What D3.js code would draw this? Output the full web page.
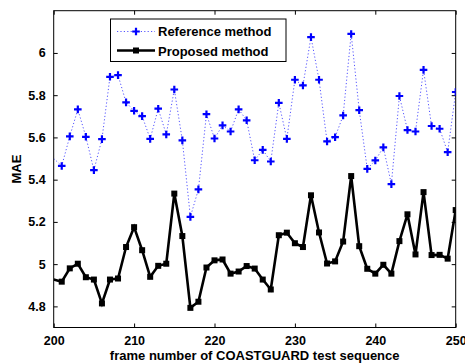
<!DOCTYPE html>
<html><head><meta charset="utf-8">
<script src="https://cdn.jsdelivr.net/npm/d3@7"></script>
<style>
html,body{margin:0;padding:0;background:#fff;}
text{font-family:"Liberation Sans",Arial,Helvetica,sans-serif;font-weight:bold;}
</style></head>
<body><svg id="c" width="465" height="363"></svg>
<script>
const frames = d3.range(200, 251);
const referenceMAE = [5.50,5.465,5.605,5.733,5.603,5.445,5.592,5.887,5.895,5.766,5.726,
  5.701,5.593,5.736,5.614,5.827,5.586,5.224,5.354,5.710,5.595,
  5.657,5.628,5.733,5.681,5.492,5.541,5.486,5.764,5.593,5.873,
  5.846,6.075,5.873,5.581,5.601,5.704,6.090,5.729,5.451,5.491,
  5.553,5.379,5.796,5.635,5.628,5.920,5.654,5.641,5.530,5.815];
const proposedMAE = [4.927,4.917,4.980,5.002,4.938,4.927,4.814,4.927,4.932,5.081,5.175,
  5.066,4.940,4.992,5.002,5.334,5.133,4.793,4.822,4.984,5.018,
  5.022,4.955,4.965,4.991,4.979,4.927,4.880,5.137,5.149,5.099,
  5.081,5.326,5.150,5.003,5.013,5.107,5.417,5.085,4.978,4.955,
  4.997,4.955,5.109,5.236,5.046,5.341,5.043,5.044,5.026,5.256];
const xTicks = [200,210,220,230,240,250];
const yTicks = [4.8,5,5.2,5.4,5.6,5.8,6];
const seriesNames = ["Reference method","Proposed method"];
const xTitle = "frame number of COASTGUARD test sequence";
const yTitle = "MAE";

const L=53.7, R=455.7, T=10.7, B=327.5;
const svg = d3.select("#c");
const x = d3.scaleLinear().domain([200,250]).range([L,R]);
const y = d3.scaleLinear().domain([4.7,6.2]).range([B,T]);

svg.append("defs").append("clipPath").attr("id","clip")
  .append("rect").attr("x",L).attr("y",T).attr("width",R-L).attr("height",B-T);

// axes with inward ticks
const fmtY = d => d===5||d===6 ? String(d) : d3.format(".1f")(d);
const gB = svg.append("g").attr("transform",`translate(0,${B})`)
  .call(d3.axisBottom(x).tickValues(xTicks).tickSize(-4).tickPadding(9).tickFormat(d3.format("d")));
const gT = svg.append("g").attr("transform",`translate(0,${T})`)
  .call(d3.axisTop(x).tickValues(xTicks).tickSize(-4).tickFormat(""));
const gL = svg.append("g").attr("transform",`translate(${L},0)`)
  .call(d3.axisLeft(y).tickValues(yTicks).tickSize(-4).tickPadding(8).tickFormat(fmtY));
const gR = svg.append("g").attr("transform",`translate(${R},0)`)
  .call(d3.axisRight(y).tickValues(yTicks).tickSize(-4).tickFormat(""));
[gB,gT,gL,gR].forEach(g=>{
  g.select(".domain").remove();
  g.selectAll(".tick line").attr("stroke","#000").attr("stroke-width",1);
  g.selectAll("text").attr("font-size",12.5).attr("fill","#000")
   .attr("font-family","'Liberation Sans',Arial,sans-serif").attr("font-weight","bold");
});
svg.append("rect").attr("x",L).attr("y",T).attr("width",R-L).attr("height",B-T)
  .attr("fill","none").attr("stroke","#000").attr("stroke-width",1);

const plot = svg.append("g").attr("clip-path","url(#clip)");
const refData = frames.map((f,i)=>({f,v:referenceMAE[i]}));
const propData = frames.map((f,i)=>({f,v:proposedMAE[i]}));
const line = d3.line().x(d=>x(d.f)).y(d=>y(d.v));

plot.append("path").datum(refData).attr("d",line).attr("fill","none")
  .attr("stroke","#0000ff").attr("stroke-width",0.9).attr("stroke-dasharray","1.2,2.2")
  .attr("stroke-opacity",0.75);
plot.append("path").datum(propData).attr("d",line).attr("fill","none")
  .attr("stroke","#000").attr("stroke-width",2.6).attr("stroke-linejoin","miter");

function drawPlus(g, cx, cy){
  g.append("path").attr("d",`M${cx-3.8},${cy}H${cx+3.8}M${cx},${cy-3.8}V${cy+3.8}`)
   .attr("stroke","#0000ff").attr("stroke-width",2.2).attr("fill","none");
}
refData.filter(d=>d.f>200).forEach(d=>drawPlus(plot, x(d.f), y(d.v)));
plot.selectAll("rect.sq").data(propData.filter(d=>d.f>200)).join("rect").attr("class","sq")
  .attr("x",d=>x(d.f)-3).attr("y",d=>y(d.v)-3).attr("width",6).attr("height",6).attr("fill","#000");

// axis titles
svg.append("text").attr("x",(L+R)/2).attr("y",360).attr("text-anchor","middle")
  .attr("font-size",13).text(xTitle);
svg.append("text").attr("transform",`translate(21,${(T+B)/2}) rotate(-90)`)
  .attr("text-anchor","middle").attr("font-size",13).text(yTitle);

// legend
const lg = svg.append("g");
lg.append("rect").attr("x",110.5).attr("y",19).attr("width",175.5).attr("height",42.5)
  .attr("fill","#fff").attr("stroke","#000").attr("stroke-width",1);
lg.append("line").attr("x1",117).attr("x2",155).attr("y1",31.5).attr("y2",31.5)
  .attr("stroke","#0000ff").attr("stroke-width",0.9).attr("stroke-dasharray","1.2,2.2").attr("stroke-opacity",0.75);
drawPlus(lg,136,31.5);
lg.append("line").attr("x1",117).attr("x2",155).attr("y1",50.5).attr("y2",50.5)
  .attr("stroke","#000").attr("stroke-width",2.6);
lg.append("rect").attr("x",133).attr("y",47.5).attr("width",6).attr("height",6).attr("fill","#000");
lg.selectAll("text.lt").data(seriesNames).join("text").attr("class","lt")
  .attr("x",158).attr("y",(d,i)=>[36,55.5][i]).attr("font-size",13).text(d=>d);
</script></body></html>
